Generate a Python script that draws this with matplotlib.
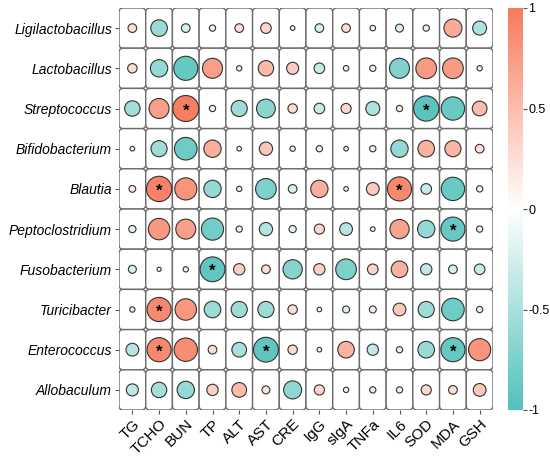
import numpy as np
import matplotlib
matplotlib.use('Agg')
import matplotlib.pyplot as plt
from matplotlib.colors import LinearSegmentedColormap, Normalize
from matplotlib.patches import FancyBboxPatch

plt.rcParams['font.family'] = ['Liberation Sans', 'DejaVu Sans']

bacteria = ['Ligilactobacillus', 'Lactobacillus', 'Streptococcus', 'Bifidobacterium',
            'Blautia', 'Peptoclostridium', 'Fusobacterium', 'Turicibacter',
            'Enterococcus', 'Allobaculum']
indexes = ['TG', 'TCHO', 'BUN', 'TP', 'ALT', 'AST', 'CRE', 'IgG', 'sIgA',
           'TNFa', 'IL6', 'SOD', 'MDA', 'GSH']

# correlation values (rows = bacteria, cols = indexes)
r_ligi  = [0.25, -0.58, -0.25, 0.15, 0.25, 0.33, 0.08, -0.25, 0.25, 0.12, -0.22, 0.15, 0.64, -0.47]
r_lacto = [0.28, -0.61, -0.89, 0.72, 0.11, 0.53, 0.39, -0.33, 0.12, -0.15, -0.72, 0.75, 0.75, 0.11]
r_strep = [-0.53, 0.72, 0.97, -0.15, -0.56, -0.67, 0.28, -0.33, 0.31, -0.47, 0.15, -0.94, -0.86, 0.50]
r_bifi  = [0.08, -0.56, -0.83, 0.61, 0.08, 0.44, 0.11, 0.15, 0.08, 0.15, -0.61, 0.58, 0.56, 0.25]
r_blau  = [0.17, 0.94, 0.81, -0.61, 0.11, -0.75, -0.25, 0.61, 0.08, 0.42, 0.89, -0.33, -0.86, 0.15]
r_pept  = [-0.19, 0.78, 0.72, -0.81, -0.15, -0.44, -0.19, 0.31, -0.42, 0.08, 0.69, -0.61, -0.89, 0.15]
r_fuso  = [-0.22, 0.06, 0.11, -0.92, 0.36, 0.25, -0.69, 0.36, -0.75, 0.33, 0.58, -0.36, -0.25, -0.33]
r_turi  = [0.11, 0.89, 0.78, -0.58, -0.56, -0.56, 0.28, 0.08, -0.18, 0.18, 0.42, -0.56, -0.83, 0.15]
r_ente  = [-0.42, 0.89, 0.86, 0.25, -0.50, -0.92, 0.28, 0.08, 0.58, -0.36, 0.15, -0.58, -0.89, 0.81]
r_allo  = [-0.39, -0.53, -0.61, 0.36, 0.50, 0.22, -0.64, 0.31, 0.11, 0.15, 0.15, 0.31, 0.25, 0.42]
corr = np.array([r_ligi, r_lacto, r_strep, r_bifi, r_blau, r_pept, r_fuso, r_turi, r_ente, r_allo])

# cells marked with * (row, col)
sig_rows = [2, 2, 4, 4, 5, 6, 7, 8, 8, 8]
sig_cols = [2, 11, 1, 10, 12, 3, 1, 1, 5, 12]

cmap = LinearSegmentedColormap.from_list('tealcoral', ['#52C1BA', '#FFFFFF', '#F77B5C'])
norm = Normalize(-1, 1)

fig = plt.figure(figsize=(5.5, 4.57), dpi=100)
ax = fig.add_axes([119/550, 47/457, 374/550, 402/457])
cax = fig.add_axes([508/550, 47/457, 15/550, 402/457])

nr, nc = corr.shape
cw_px = 374 / nc
ch_px = 402 / nr
for i in range(nr):
    for j in range(nc):
        box = FancyBboxPatch((j, i), 1, 1, boxstyle='round,pad=0,rounding_size=0.16',
                             mutation_aspect=cw_px/ch_px, facecolor='white',
                             edgecolor='#6b6b6b', linewidth=1.0, zorder=1)
        ax.add_patch(box)

# circle diameter grows linearly with |r| (small floor so r~0 still shows)
yy, xx = np.mgrid[0:nr, 0:nc]
cell_pt = cw_px * 0.72
sizes = (cell_pt * (0.1 + 0.9 * np.abs(corr)))**2
ax.scatter(xx.ravel() + 0.5, yy.ravel() + 0.5, s=sizes.ravel(), c=corr.ravel(),
           cmap=cmap, norm=norm, edgecolors='#333333', linewidths=0.8, zorder=3)

for i, j in zip(sig_rows, sig_cols):
    ax.text(j + 0.5, i + 0.56, '*', ha='center', va='center', fontsize=12,
            fontweight='bold', color='black', zorder=4)

ax.set_xlim(0, nc)
ax.set_ylim(nr, 0)
ax.set_xticks(np.arange(nc) + 0.5)
ax.set_xticklabels(indexes, rotation=45, ha='right', rotation_mode='anchor', fontsize=11)
ax.set_yticks(np.arange(nr) + 0.5)
ax.set_yticklabels(bacteria, fontsize=10, style='italic')
ax.tick_params(length=3, width=0.8, color='#555555', pad=2)
for s in ax.spines.values():
    s.set_visible(False)

cb = fig.colorbar(plt.cm.ScalarMappable(norm=norm, cmap=cmap), cax=cax)
cb.set_ticks([1, 0.5, 0, -0.5, -1])
cb.set_ticklabels(['1', '0.5', '0', '-0.5', '-1'])
cb.outline.set_visible(False)
cb.ax.tick_params(length=3, width=0.8, color='#555555', labelsize=9, pad=1)

fig.savefig('out.png', dpi=100)
